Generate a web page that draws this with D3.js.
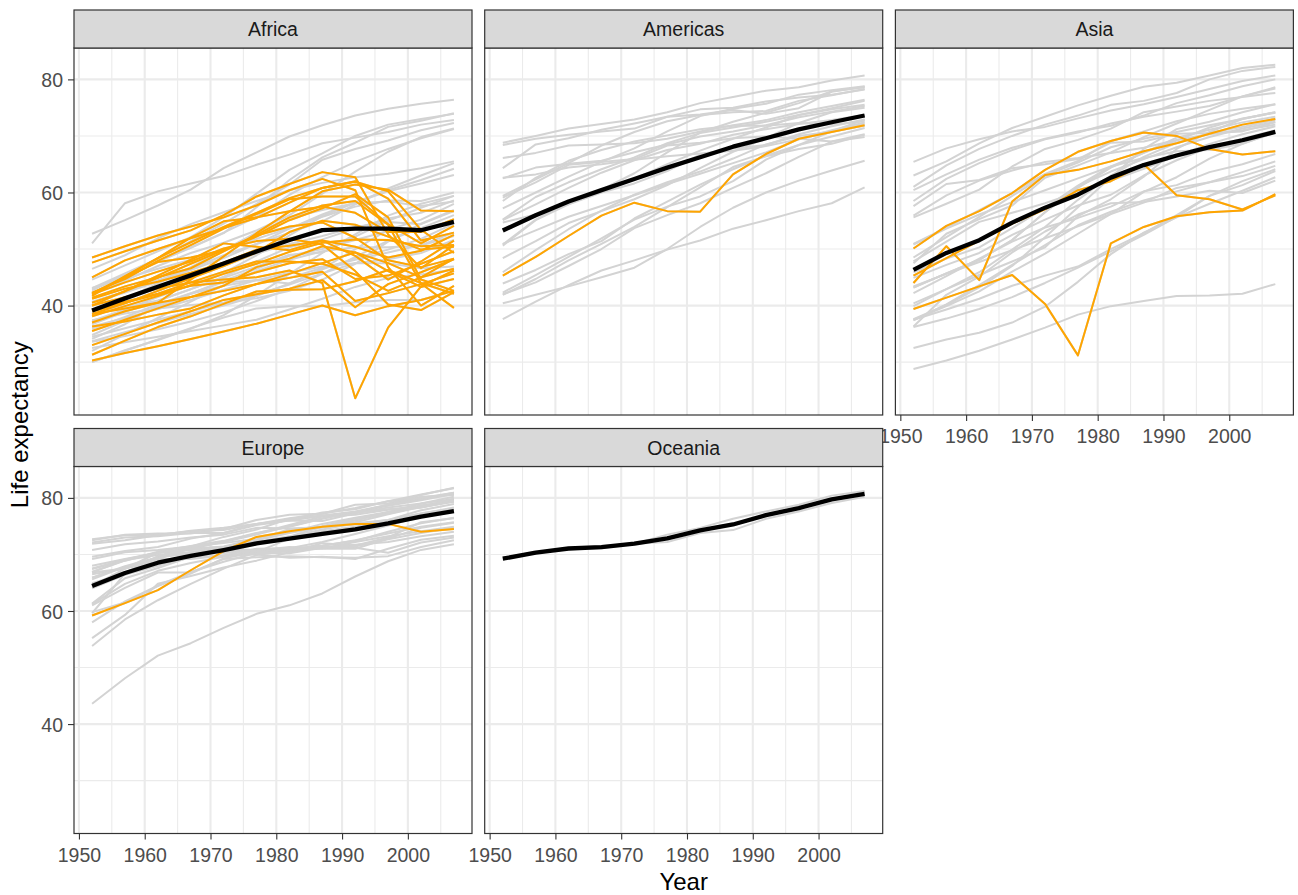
<!DOCTYPE html>
<html lang="en">
<head>
  <meta charset="UTF-8">
  <title>Life expectancy by continent</title>
  <script src="https://d3js.org/d3.v7.min.js"></script>
  <style>
    body { margin: 0; background: #fff; }
    svg { display: block; font-family: "Liberation Sans", Arial, Helvetica, sans-serif; }
    .tick text { font-size: 19.5px; fill: #4d4d4d; }
    .tick line { stroke: #333; stroke-width: 1.1px; }
  </style>
</head>
<body>
  <svg></svg>

  <script>
    // years and tick labels
    const years = [1952, 1957, 1962, 1967, 1972, 1977, 1982, 1987, 1992, 1997, 2002, 2007];
    const yearTicks = [1950, 1960, 1970, 1980, 1990, 2000];
    const lifeTicks = [40, 60, 80];
    const continents = ["Africa", "Americas", "Asia", "Europe", "Oceania"];

    // life expectancy per country
    const africa = [
      ["Algeria", [43.1, 45.7, 48.3, 51.4, 54.5, 58.0, 61.4, 65.8, 67.7, 69.2, 71.0, 72.3]],
      ["Angola", [30.0, 32.0, 34.0, 36.0, 37.9, 39.5, 39.9, 39.9, 40.6, 41.0, 41.0, 42.7]],
      ["Benin", [38.2, 40.4, 42.6, 44.9, 47.0, 49.2, 50.9, 52.3, 53.9, 54.8, 54.4, 56.7]],
      ["Botswana", [47.6, 49.6, 51.5, 53.3, 56.0, 59.3, 61.5, 63.6, 62.7, 52.6, 46.6, 50.7]],
      ["Burkina Faso", [32.0, 34.9, 37.8, 40.7, 43.6, 46.1, 48.1, 49.6, 50.3, 50.3, 50.6, 52.3]],
      ["Burundi", [39.0, 40.5, 42.0, 43.5, 44.1, 45.9, 47.5, 48.2, 44.7, 45.3, 47.4, 49.6]],
      ["Cameroon", [38.5, 40.4, 42.6, 44.8, 47.0, 49.4, 53.0, 55.0, 54.3, 52.2, 49.9, 50.4]],
      ["Central African Republic", [35.5, 37.5, 39.5, 41.5, 43.5, 46.8, 48.3, 50.5, 49.4, 46.1, 43.3, 44.7]],
      ["Chad", [38.1, 39.9, 41.7, 43.6, 45.6, 47.4, 49.5, 51.1, 51.7, 51.6, 50.5, 50.7]],
      ["Comoros", [40.7, 42.5, 44.5, 46.5, 48.9, 50.9, 52.9, 54.9, 57.9, 60.7, 63.0, 65.2]],
      ["Congo, Dem. Rep.", [39.1, 40.7, 42.1, 44.1, 46.0, 47.8, 47.8, 47.4, 45.5, 42.6, 45.0, 46.5]],
      ["Congo, Rep.", [42.1, 45.1, 48.4, 52.0, 54.9, 55.6, 56.7, 57.5, 56.4, 53.0, 53.0, 55.3]],
      ["Cote d'Ivoire", [40.5, 42.5, 44.9, 47.4, 49.8, 52.4, 54.0, 54.7, 52.0, 48.0, 46.8, 48.3]],
      ["Djibouti", [34.8, 37.3, 39.7, 42.1, 44.4, 46.5, 48.8, 50.0, 51.6, 53.2, 53.4, 54.8]],
      ["Egypt", [41.9, 44.4, 47.0, 49.3, 51.1, 53.3, 56.0, 59.8, 63.7, 67.2, 69.8, 71.3]],
      ["Equatorial Guinea", [34.5, 36.0, 37.5, 39.0, 40.5, 42.0, 43.7, 45.7, 47.5, 48.2, 49.3, 51.6]],
      ["Eritrea", [35.9, 38.0, 40.2, 42.2, 44.1, 44.5, 43.9, 46.5, 50.0, 53.4, 55.2, 58.0]],
      ["Ethiopia", [34.1, 36.7, 40.1, 42.1, 43.5, 44.5, 44.9, 46.7, 48.1, 49.4, 50.7, 52.9]],
      ["Gabon", [37.0, 39.0, 40.5, 44.6, 48.7, 52.8, 56.6, 60.2, 61.4, 60.5, 56.8, 56.7]],
      ["Gambia", [30.0, 32.1, 33.9, 35.9, 38.3, 41.8, 45.6, 49.3, 52.6, 55.9, 58.0, 59.4]],
      ["Ghana", [43.1, 44.8, 46.5, 48.1, 49.9, 51.8, 53.7, 55.7, 57.5, 58.6, 58.5, 60.0]],
      ["Guinea", [33.6, 34.6, 35.8, 37.2, 38.8, 40.8, 42.9, 45.6, 48.6, 51.5, 53.7, 56.0]],
      ["Guinea-Bissau", [32.5, 33.5, 34.5, 35.5, 36.5, 37.5, 39.3, 41.2, 43.3, 44.9, 45.5, 46.4]],
      ["Kenya", [42.3, 44.7, 47.9, 50.7, 53.6, 56.2, 58.8, 59.3, 59.3, 54.4, 51.0, 54.1]],
      ["Lesotho", [42.1, 45.0, 47.7, 48.5, 49.8, 52.2, 55.1, 57.2, 59.7, 55.6, 44.6, 42.6]],
      ["Liberia", [38.5, 39.5, 40.5, 41.5, 42.6, 43.8, 44.9, 46.0, 40.8, 42.2, 43.8, 45.7]],
      ["Libya", [42.7, 45.3, 47.8, 50.2, 52.8, 57.4, 62.2, 66.2, 68.8, 71.6, 72.7, 74.0]],
      ["Madagascar", [36.7, 38.9, 40.8, 42.9, 44.9, 46.9, 49.0, 49.4, 52.2, 55.0, 57.3, 59.4]],
      ["Malawi", [36.3, 37.2, 38.4, 39.5, 41.8, 43.8, 45.6, 47.5, 49.4, 47.5, 45.0, 48.3]],
      ["Mali", [33.7, 35.3, 36.9, 38.5, 40.0, 41.7, 43.9, 46.4, 48.4, 49.9, 51.8, 54.5]],
      ["Mauritania", [40.5, 42.3, 44.2, 46.3, 48.4, 50.9, 53.6, 56.1, 58.3, 60.4, 62.2, 64.2]],
      ["Mauritius", [51.0, 58.1, 60.2, 61.6, 62.9, 64.9, 66.7, 68.7, 69.7, 70.7, 72.0, 72.8]],
      ["Morocco", [42.9, 45.4, 47.9, 50.3, 52.9, 55.7, 59.6, 62.7, 65.4, 67.7, 69.6, 71.2]],
      ["Mozambique", [31.3, 33.8, 36.2, 38.1, 40.3, 42.5, 42.8, 42.9, 44.3, 46.3, 44.0, 42.1]],
      ["Namibia", [41.7, 45.2, 48.4, 51.2, 53.9, 56.4, 59.0, 60.8, 62.0, 58.9, 51.5, 52.9]],
      ["Niger", [37.4, 38.6, 39.5, 40.1, 40.5, 41.3, 42.6, 44.6, 47.4, 51.3, 54.5, 56.9]],
      ["Nigeria", [36.3, 37.8, 39.4, 41.0, 42.8, 44.5, 45.8, 46.9, 47.5, 47.5, 46.6, 46.9]],
      ["Reunion", [52.7, 55.1, 57.7, 60.5, 64.3, 67.1, 69.9, 71.9, 73.6, 74.8, 75.7, 76.4]],
      ["Rwanda", [40.0, 41.5, 43.0, 44.1, 44.6, 45.0, 46.2, 44.0, 23.6, 36.1, 43.4, 46.2]],
      ["Sao Tome and Principe", [46.5, 48.9, 51.9, 54.4, 56.5, 58.5, 60.4, 61.7, 62.7, 63.3, 64.3, 65.5]],
      ["Senegal", [37.3, 39.3, 41.5, 43.6, 45.8, 48.9, 52.4, 55.8, 58.2, 60.2, 61.6, 63.1]],
      ["Sierra Leone", [30.3, 31.6, 32.8, 34.1, 35.4, 36.8, 38.4, 40.0, 38.3, 39.9, 41.0, 42.6]],
      ["Somalia", [33.0, 35.0, 37.0, 39.0, 41.0, 42.0, 43.0, 44.5, 39.7, 43.8, 45.9, 48.2]],
      ["South Africa", [45.0, 48.0, 50.0, 51.9, 53.7, 55.5, 58.2, 60.8, 61.9, 60.2, 53.4, 49.3]],
      ["Sudan", [38.6, 39.6, 40.9, 42.9, 45.1, 47.8, 50.3, 51.7, 53.6, 55.4, 56.4, 58.6]],
      ["Swaziland", [41.4, 43.4, 45.0, 46.6, 49.6, 52.5, 55.6, 57.7, 58.5, 54.3, 43.9, 39.6]],
      ["Tanzania", [41.2, 43.0, 44.2, 45.8, 47.6, 49.9, 50.6, 51.5, 50.4, 48.5, 49.7, 52.5]],
      ["Togo", [38.6, 41.2, 43.9, 46.8, 49.8, 52.9, 55.5, 56.9, 58.1, 58.4, 57.6, 58.4]],
      ["Tunisia", [44.6, 47.1, 49.6, 52.1, 55.6, 59.8, 64.0, 66.9, 70.0, 72.0, 73.0, 73.9]],
      ["Uganda", [40.0, 42.6, 45.3, 48.1, 51.0, 50.4, 49.8, 51.5, 48.8, 44.6, 47.8, 51.5]],
      ["Zambia", [42.0, 44.1, 46.0, 47.8, 50.1, 51.4, 51.8, 50.8, 46.1, 40.2, 39.2, 42.4]],
      ["Zimbabwe", [48.5, 50.5, 52.4, 54.0, 55.6, 57.7, 60.4, 62.4, 60.4, 46.8, 40.0, 43.5]]
    ];

    const americas = [
      ["Argentina", [62.5, 64.4, 65.1, 65.6, 67.1, 68.5, 69.9, 70.8, 71.9, 73.3, 74.3, 75.3]],
      ["Bolivia", [40.4, 41.9, 43.4, 45.0, 46.7, 50.0, 53.9, 57.3, 60.0, 62.1, 63.9, 65.6]],
      ["Brazil", [50.9, 53.3, 55.7, 57.6, 59.5, 61.5, 63.3, 65.2, 67.1, 69.4, 71.0, 72.4]],
      ["Canada", [68.8, 70.0, 71.3, 72.1, 72.9, 74.2, 75.8, 76.9, 78.0, 78.6, 79.8, 80.7]],
      ["Chile", [54.7, 56.1, 57.9, 60.5, 63.4, 67.1, 70.6, 72.5, 74.1, 75.8, 77.9, 78.6]],
      ["Colombia", [50.6, 55.1, 57.9, 60.0, 61.6, 63.8, 66.7, 67.8, 68.4, 70.3, 71.7, 72.9]],
      ["Costa Rica", [57.2, 60.0, 62.8, 65.4, 67.8, 70.8, 73.5, 74.8, 75.7, 77.3, 78.1, 78.8]],
      ["Cuba", [59.4, 62.3, 65.2, 68.3, 70.7, 72.6, 73.7, 74.2, 74.4, 76.2, 77.2, 78.3]],
      ["Dominican Republic", [45.9, 49.8, 53.5, 56.8, 59.6, 61.8, 63.7, 66.0, 68.5, 70.0, 70.8, 72.2]],
      ["Ecuador", [48.4, 51.4, 54.6, 56.7, 58.8, 61.3, 64.3, 67.2, 69.6, 72.3, 74.2, 75.0]],
      ["El Salvador", [45.3, 48.6, 52.3, 55.9, 58.2, 56.7, 56.6, 63.2, 66.8, 69.5, 70.7, 71.9]],
      ["Guatemala", [42.0, 44.1, 47.0, 50.0, 53.7, 56.0, 58.1, 60.8, 63.4, 66.3, 69.0, 70.3]],
      ["Haiti", [37.6, 40.7, 43.6, 46.2, 48.0, 49.9, 51.5, 53.6, 55.1, 56.7, 58.1, 60.9]],
      ["Honduras", [41.9, 44.7, 48.0, 50.9, 53.9, 57.4, 60.9, 64.5, 66.4, 67.7, 68.6, 70.2]],
      ["Jamaica", [58.5, 62.6, 65.6, 67.5, 69.0, 70.1, 71.2, 71.8, 71.8, 72.3, 72.0, 72.6]],
      ["Mexico", [50.8, 55.2, 58.3, 60.1, 62.4, 65.0, 67.4, 69.5, 71.5, 73.7, 74.9, 76.2]],
      ["Nicaragua", [42.3, 45.4, 48.6, 51.9, 55.2, 57.5, 59.3, 62.0, 65.8, 68.4, 70.8, 72.9]],
      ["Panama", [55.2, 59.2, 61.8, 64.1, 66.2, 68.7, 70.5, 71.5, 72.5, 73.7, 74.7, 75.5]],
      ["Paraguay", [62.6, 63.2, 64.4, 65.0, 65.8, 66.4, 66.9, 67.4, 68.2, 69.4, 70.8, 71.8]],
      ["Peru", [43.9, 46.3, 49.1, 51.4, 55.4, 58.4, 61.4, 64.1, 66.5, 68.4, 69.9, 71.4]],
      ["Puerto Rico", [64.3, 68.5, 69.6, 71.1, 72.2, 73.4, 73.8, 74.6, 73.9, 74.9, 77.8, 78.7]],
      ["Trinidad and Tobago", [59.1, 61.8, 64.9, 65.4, 65.9, 68.3, 68.8, 69.6, 69.9, 69.5, 69.0, 69.8]],
      ["United States", [68.4, 69.5, 70.2, 70.8, 71.3, 73.4, 74.7, 75.0, 76.1, 76.8, 77.3, 78.2]],
      ["Uruguay", [66.1, 67.0, 68.3, 68.5, 68.7, 69.5, 70.8, 71.9, 72.8, 74.2, 75.3, 76.4]],
      ["Venezuela", [55.1, 57.9, 60.8, 63.5, 65.7, 67.5, 68.6, 70.2, 71.2, 72.1, 72.8, 73.7]]
    ];

    const asia = [
      ["Afghanistan", [28.8, 30.3, 32.0, 34.0, 36.1, 38.4, 39.9, 40.8, 41.7, 41.8, 42.1, 43.8]],
      ["Bahrain", [50.9, 53.8, 56.9, 59.9, 63.3, 65.6, 69.1, 70.8, 72.6, 73.9, 74.8, 75.6]],
      ["Bangladesh", [37.5, 39.3, 41.2, 43.5, 45.3, 46.9, 50.0, 52.8, 56.0, 59.4, 62.0, 64.1]],
      ["Cambodia", [39.4, 41.4, 43.4, 45.4, 40.3, 31.2, 51.0, 53.9, 55.8, 56.5, 56.8, 59.7]],
      ["China", [44.0, 50.5, 44.5, 58.4, 63.1, 64.0, 65.5, 67.3, 68.7, 70.4, 72.0, 73.0]],
      ["Hong Kong", [61.0, 64.8, 67.7, 70.0, 72.0, 73.6, 75.5, 76.2, 77.6, 80.0, 81.5, 82.2]],
      ["India", [37.4, 40.2, 43.6, 47.2, 50.7, 54.2, 56.6, 58.6, 60.2, 61.8, 62.9, 64.7]],
      ["Indonesia", [37.5, 39.9, 42.5, 46.0, 49.2, 52.7, 56.2, 60.1, 62.7, 66.0, 68.6, 70.7]],
      ["Iran", [44.9, 47.2, 49.3, 52.5, 55.2, 57.7, 59.6, 63.0, 65.7, 68.0, 69.5, 71.0]],
      ["Iraq", [45.3, 48.4, 51.5, 54.5, 57.0, 60.4, 62.0, 65.0, 59.5, 58.8, 57.0, 59.5]],
      ["Israel", [65.4, 67.8, 69.4, 70.8, 71.6, 73.1, 74.5, 75.6, 76.9, 78.3, 79.7, 80.7]],
      ["Japan", [63.0, 65.5, 68.7, 71.4, 73.4, 75.4, 77.1, 78.7, 79.4, 80.7, 82.0, 82.6]],
      ["Jordan", [43.2, 45.7, 48.1, 51.6, 56.5, 61.1, 63.7, 65.9, 68.0, 69.8, 71.3, 72.5]],
      ["Korea, Dem. Rep.", [50.1, 54.1, 56.7, 59.9, 64.0, 67.2, 69.1, 70.6, 70.0, 67.7, 66.7, 67.3]],
      ["Korea, Rep.", [47.5, 52.7, 55.3, 57.7, 62.6, 64.8, 67.1, 69.8, 72.2, 74.6, 77.0, 78.6]],
      ["Kuwait", [55.6, 58.0, 60.5, 64.6, 67.7, 69.3, 71.3, 74.2, 75.2, 76.2, 76.9, 77.6]],
      ["Lebanon", [55.9, 59.5, 62.1, 63.9, 65.4, 66.1, 67.0, 67.9, 69.3, 70.3, 71.0, 72.0]],
      ["Malaysia", [48.5, 52.1, 55.7, 59.4, 63.0, 65.3, 68.0, 69.5, 70.7, 71.9, 73.0, 74.2]],
      ["Mongolia", [42.2, 45.2, 48.3, 51.3, 53.8, 55.5, 57.5, 60.2, 61.3, 63.6, 65.0, 66.8]],
      ["Myanmar", [36.3, 41.9, 45.1, 49.4, 53.1, 56.1, 58.1, 58.3, 59.3, 60.3, 59.9, 62.1]],
      ["Nepal", [36.2, 37.7, 39.4, 41.5, 44.0, 46.7, 49.6, 52.5, 55.7, 59.4, 61.3, 63.8]],
      ["Oman", [37.6, 40.1, 43.2, 47.0, 52.1, 57.4, 62.7, 67.7, 71.2, 72.5, 74.2, 75.6]],
      ["Pakistan", [43.4, 45.6, 47.7, 49.8, 51.9, 54.0, 56.2, 58.2, 60.8, 61.8, 63.6, 65.5]],
      ["Philippines", [47.8, 51.3, 54.8, 56.4, 58.1, 60.1, 62.1, 64.2, 66.5, 68.6, 70.3, 71.7]],
      ["Saudi Arabia", [39.9, 42.9, 45.9, 49.9, 53.9, 58.7, 63.0, 66.3, 68.8, 70.5, 71.6, 72.8]],
      ["Singapore", [60.4, 63.2, 65.8, 67.9, 69.5, 70.8, 71.8, 73.6, 75.8, 77.2, 78.8, 80.0]],
      ["Sri Lanka", [57.6, 61.5, 62.2, 64.3, 65.0, 65.9, 68.8, 69.0, 70.4, 70.5, 70.8, 72.4]],
      ["Syria", [45.9, 48.3, 50.3, 53.7, 57.3, 61.2, 64.6, 67.0, 69.2, 71.5, 73.1, 74.1]],
      ["Taiwan", [58.5, 62.4, 65.2, 67.5, 69.4, 70.6, 72.2, 73.4, 74.3, 75.3, 77.0, 78.4]],
      ["Thailand", [50.8, 53.6, 56.1, 58.3, 60.4, 62.5, 64.6, 66.1, 67.3, 67.5, 68.6, 70.6]],
      ["Vietnam", [40.4, 42.9, 45.4, 47.8, 50.3, 55.8, 58.8, 62.8, 67.7, 70.7, 73.0, 74.2]],
      ["West Bank and Gaza", [43.2, 45.7, 48.1, 51.6, 56.5, 60.8, 64.4, 67.0, 69.7, 71.1, 72.4, 73.4]],
      ["Yemen, Rep.", [32.5, 34.0, 35.2, 37.0, 39.8, 44.2, 49.1, 52.9, 55.6, 58.0, 60.3, 62.7]]
    ];

    const europe = [
      ["Albania", [55.2, 59.3, 64.8, 66.2, 67.7, 68.9, 70.4, 72.0, 71.6, 73.0, 75.7, 76.4]],
      ["Austria", [66.8, 67.5, 69.5, 70.1, 70.6, 72.2, 73.2, 74.9, 76.0, 77.5, 79.0, 79.8]],
      ["Belgium", [68.0, 69.2, 70.3, 70.9, 71.4, 72.8, 73.9, 75.4, 76.5, 77.5, 78.3, 79.4]],
      ["Bosnia and Herzegovina", [53.8, 58.5, 61.9, 64.8, 67.5, 69.9, 70.7, 71.1, 72.2, 73.2, 74.1, 74.9]],
      ["Bulgaria", [59.6, 66.6, 69.5, 70.4, 70.9, 70.8, 71.1, 71.3, 71.2, 70.3, 72.1, 73.0]],
      ["Croatia", [61.2, 64.8, 67.1, 68.5, 69.6, 70.6, 70.5, 71.5, 72.5, 73.7, 74.9, 75.7]],
      ["Czech Republic", [66.9, 69.0, 69.9, 70.4, 70.3, 70.7, 71.0, 71.6, 72.4, 74.0, 75.5, 76.5]],
      ["Denmark", [70.8, 71.8, 72.3, 73.0, 73.5, 74.7, 74.6, 74.8, 75.3, 76.1, 77.2, 78.3]],
      ["Finland", [66.5, 67.5, 68.8, 69.8, 70.9, 72.5, 74.5, 74.8, 75.7, 77.1, 78.4, 79.3]],
      ["France", [67.4, 68.9, 70.5, 71.5, 72.4, 73.8, 74.9, 76.3, 77.5, 78.6, 79.6, 80.7]],
      ["Germany", [67.5, 69.1, 70.3, 70.8, 71.0, 72.5, 73.8, 74.8, 76.1, 77.3, 78.7, 79.4]],
      ["Greece", [65.9, 67.9, 69.5, 71.0, 72.3, 73.7, 75.2, 76.7, 77.0, 77.9, 78.3, 79.5]],
      ["Hungary", [64.0, 66.4, 68.0, 69.5, 69.8, 70.0, 69.4, 69.6, 69.2, 71.0, 72.6, 73.3]],
      ["Iceland", [72.5, 73.5, 73.7, 73.7, 74.5, 76.1, 77.0, 77.2, 78.8, 79.0, 80.5, 81.8]],
      ["Ireland", [66.9, 68.9, 70.3, 71.1, 71.3, 72.0, 73.1, 74.4, 75.5, 76.1, 77.8, 78.9]],
      ["Italy", [65.9, 67.8, 69.2, 71.1, 72.2, 73.5, 75.0, 76.4, 77.4, 78.8, 80.2, 80.5]],
      ["Montenegro", [59.2, 61.4, 63.7, 67.2, 70.6, 73.1, 74.1, 74.9, 75.4, 75.4, 74.0, 74.5]],
      ["Netherlands", [72.1, 73.0, 73.2, 73.8, 73.8, 75.2, 76.0, 76.8, 77.4, 78.0, 78.5, 79.8]],
      ["Norway", [72.7, 73.4, 73.5, 74.1, 74.3, 75.4, 76.0, 75.9, 77.3, 78.3, 79.0, 80.2]],
      ["Poland", [61.3, 65.8, 67.6, 69.6, 70.8, 70.7, 71.3, 71.0, 71.0, 72.8, 74.7, 75.6]],
      ["Portugal", [59.8, 61.5, 64.4, 66.6, 69.3, 70.4, 72.8, 74.1, 74.9, 76.0, 77.3, 78.1]],
      ["Romania", [61.0, 64.1, 66.8, 66.8, 69.2, 69.5, 69.7, 69.5, 69.4, 69.7, 71.3, 72.5]],
      ["Serbia", [58.0, 61.7, 64.5, 66.9, 68.7, 70.3, 70.2, 71.2, 71.7, 72.2, 73.2, 74.0]],
      ["Slovak Republic", [64.4, 67.5, 70.3, 71.0, 70.3, 70.5, 70.8, 71.1, 71.4, 72.7, 73.8, 74.7]],
      ["Slovenia", [65.6, 67.8, 69.2, 69.2, 69.8, 71.0, 71.1, 72.2, 73.6, 75.1, 76.7, 77.9]],
      ["Spain", [64.9, 66.7, 69.7, 71.4, 73.1, 74.4, 76.3, 76.9, 77.6, 78.8, 79.8, 80.9]],
      ["Sweden", [71.9, 72.5, 73.4, 74.2, 74.7, 75.4, 76.4, 77.2, 78.2, 79.4, 80.0, 80.9]],
      ["Switzerland", [69.6, 70.6, 71.3, 72.8, 73.8, 75.4, 76.2, 77.4, 78.0, 79.4, 80.6, 81.7]],
      ["Turkey", [43.6, 48.1, 52.1, 54.3, 57.0, 59.5, 61.0, 63.1, 66.1, 68.8, 70.8, 71.8]],
      ["United Kingdom", [69.2, 70.4, 70.8, 71.4, 72.0, 72.8, 74.0, 75.0, 76.4, 77.2, 78.5, 79.4]]
    ];

    const oceania = [
      ["Australia", [69.1, 70.3, 70.9, 71.1, 71.9, 73.5, 74.7, 76.3, 77.6, 78.8, 80.4, 81.2]],
      ["New Zealand", [69.4, 70.3, 71.2, 71.5, 71.9, 72.2, 73.8, 74.3, 76.3, 77.6, 79.1, 80.2]]
    ];

    // countries drawn in orange
    const highlighted = [
      "Botswana", "Burundi", "Cameroon", "Central African Republic", "Chad", "Congo, Dem. Rep.",
      "Congo, Rep.", "Cote d'Ivoire", "Gabon", "Kenya", "Lesotho", "Liberia", "Malawi",
      "Mozambique", "Namibia", "Rwanda", "Sierra Leone", "Somalia", "South Africa", "Swaziland",
      "Tanzania", "Uganda", "Zambia", "Zimbabwe",
      "El Salvador",
      "Cambodia", "China", "Iraq", "Korea, Dem. Rep.",
      "Montenegro"
    ];

    const countriesOf = { Africa: africa, Americas: americas, Asia: asia, Europe: europe, Oceania: oceania };

    // layout (ggplot facet_wrap, 3 columns)
    const width = 1298, height = 895;
    const colX = [74, 484.7, 895.4];
    const rowY = [10, 428.5];
    const panelW = 398, stripH = 38, panelH = 367;

    const svg = d3.select('svg').attr('width', width).attr('height', height);

    const x = d3.scaleLinear().domain([1949.25, 2009.75]).range([0, panelW]);
    const y = d3.scaleLinear().domain([20.65, 85.55]).range([panelH, 0]);

    const line = d3.line()
      .x((d, i) => x(years[i]))
      .y(d => y(d));

    continents.forEach((cont, k) => {
      const col = k % 3, row = Math.floor(k / 3);
      const g = svg.append('g')
        .attr('transform', `translate(${colX[col]},${rowY[row] + stripH})`);

      g.append('rect').attr('width', panelW).attr('height', panelH).attr('fill', '#fff');

      // grid
      const minorX = d3.range(1955, 2010, 10);
      const minorY = [30, 50, 70];
      g.selectAll('.mx').data(minorX).join('line')
        .attr('x1', x).attr('x2', x).attr('y1', 0).attr('y2', panelH)
        .attr('stroke', '#ebebeb').attr('stroke-width', 1.1);
      g.selectAll('.my').data(minorY).join('line')
        .attr('y1', y).attr('y2', y).attr('x1', 0).attr('x2', panelW)
        .attr('stroke', '#ebebeb').attr('stroke-width', 1.1);
      g.append('g').selectAll('line').data(yearTicks).join('line')
        .attr('x1', x).attr('x2', x).attr('y1', 0).attr('y2', panelH)
        .attr('stroke', '#ebebeb').attr('stroke-width', 2.1);
      g.append('g').selectAll('line').data(lifeTicks).join('line')
        .attr('y1', y).attr('y2', y).attr('x1', 0).attr('x2', panelW)
        .attr('stroke', '#ebebeb').attr('stroke-width', 2.1);

      const countries = countriesOf[cont];

      g.append('g').selectAll('path').data(countries).join('path')
        .attr('d', d => line(d[1]))
        .attr('fill', 'none').attr('stroke', '#d3d3d3').attr('stroke-width', 2)
        .attr('stroke-linejoin', 'round');

      g.append('g').selectAll('path').data(countries.filter(d => highlighted.includes(d[0]))).join('path')
        .attr('d', d => line(d[1]))
        .attr('fill', 'none').attr('stroke', '#ffa500').attr('stroke-width', 2)
        .attr('stroke-linejoin', 'round');

      // continent mean
      const mean = years.map((yr, i) => d3.mean(countries, d => d[1][i]));
      g.append('path')
        .attr('d', line(mean))
        .attr('fill', 'none').attr('stroke', '#000').attr('stroke-width', 4.3)
        .attr('stroke-linejoin', 'round');

      g.append('rect').attr('width', panelW).attr('height', panelH)
        .attr('fill', 'none').attr('stroke', '#333').attr('stroke-width', 1.2);

      // strip
      const s = svg.append('g').attr('transform', `translate(${colX[col]},${rowY[row]})`);
      s.append('rect').attr('width', panelW).attr('height', stripH)
        .attr('fill', '#d9d9d9').attr('stroke', '#333').attr('stroke-width', 1.2);
      s.append('text').attr('x', panelW / 2).attr('y', stripH / 2 + 7)
        .attr('text-anchor', 'middle').attr('font-size', '19.5px').attr('fill', '#1a1a1a')
        .text(cont);

      // axes
      if (col === 0) {
        const ay = g.append('g').call(d3.axisLeft(y).tickValues(lifeTicks).tickSize(6));
        ay.select('.domain').remove();
        ay.selectAll('text').attr('x', -11).attr('dy', '0.36em');
      }
      if (row === 1 || col === 2) {
        const ax = g.append('g').attr('transform', `translate(0,${panelH})`)
          .call(d3.axisBottom(x).tickValues(yearTicks).tickSize(6).tickFormat(d3.format('d')));
        ax.select('.domain').remove();
        ax.selectAll('text').attr('y', 28).attr('dy', null);
      }
    });

    // axis titles
    svg.append('text').attr('x', (colX[0] + colX[2] + panelW) / 2).attr('y', 890)
      .attr('text-anchor', 'middle').attr('font-size', '24px').attr('fill', '#000')
      .text('Year');
    svg.append('text')
      .attr('transform', `translate(28,${(rowY[0] + rowY[1] + stripH + panelH) / 2 + 3}) rotate(-90)`)
      .attr('text-anchor', 'middle').attr('font-size', '24px').attr('fill', '#000')
      .text('Life expectancy');
  </script>
</body>
</html>
